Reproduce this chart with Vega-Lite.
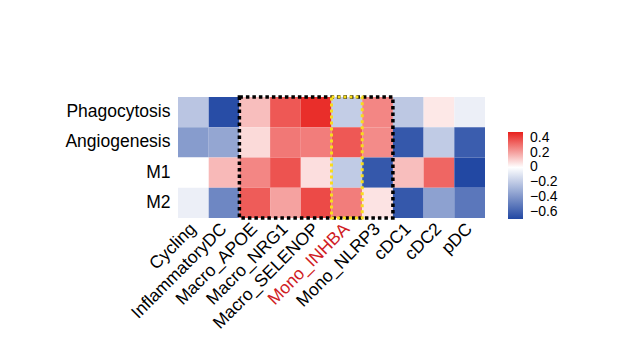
{
  "$schema": "https://vega.github.io/schema/vega-lite/v6.json",
  "width": 307,
  "height": 121,
  "autosize": {"type": "none"},
  "padding": {"left": 178, "top": 97, "right": 144, "bottom": 138},
  "background": "white",
  "config": {
    "view": {"stroke": null},
    "font": "Liberation Sans",
    "axis": {"labelFont": "Liberation Sans", "labelFontSize": 17.5, "labelColor": "black", "ticks": false, "domain": false, "grid": false, "title": null},
    "legend": {"labelFont": "Liberation Sans", "padding": 0}
  },
  "datasets": {
    "cells": [
      {"Pathway": "Phagocytosis", "Cell": "Cycling", "value": -0.22},
      {"Pathway": "Phagocytosis", "Cell": "InflammatoryDC", "value": -0.68},
      {"Pathway": "Phagocytosis", "Cell": "Macro_APOE", "value": 0.14},
      {"Pathway": "Phagocytosis", "Cell": "Macro_NRG1", "value": 0.36},
      {"Pathway": "Phagocytosis", "Cell": "Macro_SELENOP", "value": 0.45},
      {"Pathway": "Phagocytosis", "Cell": "Mono_INHBA", "value": -0.19},
      {"Pathway": "Phagocytosis", "Cell": "Mono_NLRP3", "value": 0.26},
      {"Pathway": "Phagocytosis", "Cell": "cDC1", "value": -0.21},
      {"Pathway": "Phagocytosis", "Cell": "cDC2", "value": 0.05},
      {"Pathway": "Phagocytosis", "Cell": "pDC", "value": -0.06},
      {"Pathway": "Angiogenesis", "Cell": "Cycling", "value": -0.38},
      {"Pathway": "Angiogenesis", "Cell": "InflammatoryDC", "value": -0.34},
      {"Pathway": "Angiogenesis", "Cell": "Macro_APOE", "value": 0.08},
      {"Pathway": "Angiogenesis", "Cell": "Macro_NRG1", "value": 0.29},
      {"Pathway": "Angiogenesis", "Cell": "Macro_SELENOP", "value": 0.28},
      {"Pathway": "Angiogenesis", "Cell": "Mono_INHBA", "value": 0.36},
      {"Pathway": "Angiogenesis", "Cell": "Mono_NLRP3", "value": 0.25},
      {"Pathway": "Angiogenesis", "Cell": "cDC1", "value": -0.64},
      {"Pathway": "Angiogenesis", "Cell": "cDC2", "value": -0.2},
      {"Pathway": "Angiogenesis", "Cell": "pDC", "value": -0.62},
      {"Pathway": "M1", "Cell": "Cycling", "value": 0.0},
      {"Pathway": "M1", "Cell": "InflammatoryDC", "value": 0.15},
      {"Pathway": "M1", "Cell": "Macro_APOE", "value": 0.26},
      {"Pathway": "M1", "Cell": "Macro_NRG1", "value": 0.37},
      {"Pathway": "M1", "Cell": "Macro_SELENOP", "value": 0.07},
      {"Pathway": "M1", "Cell": "Mono_INHBA", "value": -0.2},
      {"Pathway": "M1", "Cell": "Mono_NLRP3", "value": -0.64},
      {"Pathway": "M1", "Cell": "cDC1", "value": 0.14},
      {"Pathway": "M1", "Cell": "cDC2", "value": 0.33},
      {"Pathway": "M1", "Cell": "pDC", "value": -0.7},
      {"Pathway": "M2", "Cell": "Cycling", "value": -0.06},
      {"Pathway": "M2", "Cell": "InflammatoryDC", "value": -0.46},
      {"Pathway": "M2", "Cell": "Macro_APOE", "value": 0.35},
      {"Pathway": "M2", "Cell": "Macro_NRG1", "value": 0.2},
      {"Pathway": "M2", "Cell": "Macro_SELENOP", "value": 0.39},
      {"Pathway": "M2", "Cell": "Mono_INHBA", "value": 0.28},
      {"Pathway": "M2", "Cell": "Mono_NLRP3", "value": 0.06},
      {"Pathway": "M2", "Cell": "cDC1", "value": -0.64},
      {"Pathway": "M2", "Cell": "cDC2", "value": -0.36},
      {"Pathway": "M2", "Cell": "pDC", "value": -0.52}
    ],
    "boxes": [
      {"box": "black", "x1": "Macro_APOE", "x2": "Mono_NLRP3", "y1": "Phagocytosis", "y2": "M2"},
      {"box": "yellow", "x1": "Mono_INHBA", "x2": "Mono_INHBA", "y1": "Phagocytosis", "y2": "M2"}
    ]
  },
  "layer": [
    {
      "data": {"name": "cells"},
      "mark": {"type": "rect"},
      "encoding": {
        "x": {
          "field": "Cell", "type": "nominal",
          "scale": {"domain": ["Cycling", "InflammatoryDC", "Macro_APOE", "Macro_NRG1", "Macro_SELENOP", "Mono_INHBA", "Mono_NLRP3", "cDC1", "cDC2", "pDC"], "paddingInner": 0, "paddingOuter": 0},
          "axis": {"orient": "bottom", "labelAngle": -45, "labelAlign": "right", "labelBaseline": "middle", "labelPadding": 8,
                   "labelColor": {"expr": "datum.value == 'Mono_INHBA' ? '#d01c24' : 'black'"}}
        },
        "y": {
          "field": "Pathway", "type": "nominal",
          "scale": {"domain": ["Phagocytosis", "Angiogenesis", "M1", "M2"], "paddingInner": 0, "paddingOuter": 0},
          "axis": {"orient": "left", "labelPadding": 8}
        },
        "color": {
          "field": "value", "type": "quantitative",
          "scale": {"domain": [-0.7, 0.48], "domainMid": 0, "interpolate": "rgb", "range": ["#2248a3", "#ffffff", "#e8201c"]},
          "legend": {"title": null, "orient": "none", "legendX": 330, "legendY": 35, "direction": "vertical",
                     "gradientLength": 87, "gradientThickness": 15, "gradientStrokeWidth": 0,
                     "values": [0.4, 0.2, 0, -0.2, -0.4, -0.6], "format": ".1~f", "labelFontSize": 14, "labelOffset": 7,
                     "labelOverlap": false, "labelColor": "black"}
        }
      }
    },
    {
      "data": {"name": "boxes"},
      "transform": [{"filter": "datum.box == 'black'"}],
      "mark": {"type": "rect", "fill": null, "fillOpacity": 0, "stroke": "black", "strokeWidth": 3.5, "strokeDash": [3.5, 3]},
      "encoding": {
        "x": {"field": "x1", "type": "nominal", "bandPosition": 0},
        "x2": {"field": "x2", "bandPosition": 1},
        "y": {"field": "y1", "type": "nominal", "bandPosition": 0},
        "y2": {"field": "y2", "bandPosition": 1}
      }
    },
    {
      "data": {"name": "boxes"},
      "transform": [{"filter": "datum.box == 'yellow'"}],
      "mark": {"type": "rect", "fill": null, "fillOpacity": 0, "stroke": "#f8dc1c", "strokeWidth": 3, "strokeDash": [3, 3]},
      "encoding": {
        "x": {"field": "x1", "type": "nominal", "bandPosition": 0},
        "x2": {"field": "x2", "bandPosition": 1},
        "y": {"field": "y1", "type": "nominal", "bandPosition": 0},
        "y2": {"field": "y2", "bandPosition": 1}
      }
    }
  ]
}
